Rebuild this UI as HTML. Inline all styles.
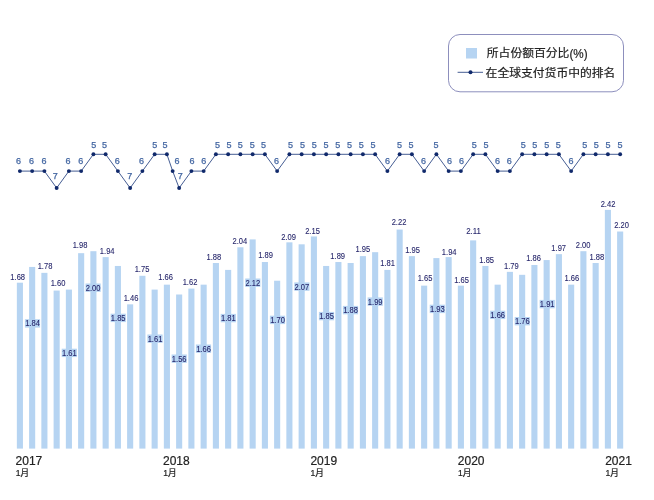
<!DOCTYPE html>
<html lang="zh-CN"><head><meta charset="utf-8"><title>人民币在全球支付货币中的份额与排名</title>
<style>html,body{margin:0;padding:0;background:#fff}body{width:654px;height:500px;overflow:hidden}svg{display:block}text{font-family:"Liberation Sans", "Noto Sans CJK SC", sans-serif;stroke-width:0.2px}.n text{stroke-width:0.1px}.r text{stroke-width:0.25px}</style>
</head><body>
<svg width="654" height="500" viewBox="0 0 654 500">
<rect width="654" height="500" fill="#fff"/>
<g fill="#b6d4f2">
<rect x="16.85" y="282.69" width="6.10" height="165.91"/>
<rect x="29.10" y="266.94" width="6.10" height="181.66"/>
<rect x="41.35" y="272.85" width="6.10" height="175.75"/>
<rect x="53.60" y="290.56" width="6.10" height="158.04"/>
<rect x="65.85" y="289.58" width="6.10" height="159.02"/>
<rect x="78.10" y="253.17" width="6.10" height="195.43"/>
<rect x="90.35" y="251.20" width="6.10" height="197.40"/>
<rect x="102.60" y="257.10" width="6.10" height="191.50"/>
<rect x="114.85" y="265.96" width="6.10" height="182.64"/>
<rect x="127.10" y="304.34" width="6.10" height="144.26"/>
<rect x="139.35" y="275.80" width="6.10" height="172.80"/>
<rect x="151.60" y="289.58" width="6.10" height="159.02"/>
<rect x="163.85" y="284.66" width="6.10" height="163.94"/>
<rect x="176.10" y="294.50" width="6.10" height="154.10"/>
<rect x="188.35" y="288.59" width="6.10" height="160.01"/>
<rect x="200.60" y="284.66" width="6.10" height="163.94"/>
<rect x="212.85" y="263.01" width="6.10" height="185.59"/>
<rect x="225.10" y="269.90" width="6.10" height="178.70"/>
<rect x="237.35" y="247.26" width="6.10" height="201.34"/>
<rect x="249.60" y="239.39" width="6.10" height="209.21"/>
<rect x="261.85" y="262.02" width="6.10" height="186.58"/>
<rect x="274.10" y="280.72" width="6.10" height="167.88"/>
<rect x="286.35" y="242.34" width="6.10" height="206.26"/>
<rect x="298.60" y="244.31" width="6.10" height="204.29"/>
<rect x="310.85" y="236.44" width="6.10" height="212.16"/>
<rect x="323.10" y="265.96" width="6.10" height="182.64"/>
<rect x="335.35" y="262.02" width="6.10" height="186.58"/>
<rect x="347.60" y="263.01" width="6.10" height="185.59"/>
<rect x="359.85" y="256.12" width="6.10" height="192.48"/>
<rect x="372.10" y="252.18" width="6.10" height="196.42"/>
<rect x="384.35" y="269.90" width="6.10" height="178.70"/>
<rect x="396.60" y="229.55" width="6.10" height="219.05"/>
<rect x="408.85" y="256.12" width="6.10" height="192.48"/>
<rect x="421.10" y="285.64" width="6.10" height="162.96"/>
<rect x="433.35" y="258.09" width="6.10" height="190.51"/>
<rect x="445.60" y="257.10" width="6.10" height="191.50"/>
<rect x="457.85" y="285.64" width="6.10" height="162.96"/>
<rect x="470.10" y="240.38" width="6.10" height="208.22"/>
<rect x="482.35" y="265.96" width="6.10" height="182.64"/>
<rect x="494.60" y="284.66" width="6.10" height="163.94"/>
<rect x="506.85" y="271.86" width="6.10" height="176.74"/>
<rect x="519.10" y="274.82" width="6.10" height="173.78"/>
<rect x="531.35" y="264.98" width="6.10" height="183.62"/>
<rect x="543.60" y="260.06" width="6.10" height="188.54"/>
<rect x="555.85" y="254.15" width="6.10" height="194.45"/>
<rect x="568.10" y="284.66" width="6.10" height="163.94"/>
<rect x="580.35" y="251.20" width="6.10" height="197.40"/>
<rect x="592.60" y="263.01" width="6.10" height="185.59"/>
<rect x="604.85" y="209.87" width="6.10" height="238.73"/>
<rect x="617.10" y="231.52" width="6.10" height="217.08"/>
</g>
<g class="n" font-size="8.6" text-anchor="middle" fill="#26266b" stroke="#26266b">
<text x="17.70" y="279.65" textLength="14.7" lengthAdjust="spacingAndGlyphs">1.68</text>
<rect x="24.90" y="319.20" width="15.2" height="8.4" fill="#b6d4f2" stroke="none"/>
<text x="32.50" y="326.45" textLength="14.7" lengthAdjust="spacingAndGlyphs">1.84</text>
<text x="45.00" y="269.15" textLength="14.7" lengthAdjust="spacingAndGlyphs">1.78</text>
<text x="58.00" y="286.35" textLength="14.7" lengthAdjust="spacingAndGlyphs">1.60</text>
<rect x="61.70" y="348.70" width="15.2" height="8.4" fill="#b6d4f2" stroke="none"/>
<text x="69.30" y="355.95" textLength="14.7" lengthAdjust="spacingAndGlyphs">1.61</text>
<text x="80.00" y="247.75" textLength="14.7" lengthAdjust="spacingAndGlyphs">1.98</text>
<rect x="85.50" y="283.50" width="15.2" height="8.4" fill="#b6d4f2" stroke="none"/>
<text x="93.10" y="290.75" textLength="14.7" lengthAdjust="spacingAndGlyphs">2.00</text>
<text x="107.20" y="254.35" textLength="14.7" lengthAdjust="spacingAndGlyphs">1.94</text>
<rect x="110.60" y="313.70" width="15.2" height="8.4" fill="#b6d4f2" stroke="none"/>
<text x="118.20" y="320.95" textLength="14.7" lengthAdjust="spacingAndGlyphs">1.85</text>
<text x="131.00" y="300.95" textLength="14.7" lengthAdjust="spacingAndGlyphs">1.46</text>
<text x="142.00" y="272.15" textLength="14.7" lengthAdjust="spacingAndGlyphs">1.75</text>
<rect x="147.40" y="334.50" width="15.2" height="8.4" fill="#b6d4f2" stroke="none"/>
<text x="155.00" y="341.75" textLength="14.7" lengthAdjust="spacingAndGlyphs">1.61</text>
<text x="165.60" y="280.35" textLength="14.7" lengthAdjust="spacingAndGlyphs">1.66</text>
<rect x="171.60" y="354.50" width="15.2" height="8.4" fill="#b6d4f2" stroke="none"/>
<text x="179.20" y="361.75" textLength="14.7" lengthAdjust="spacingAndGlyphs">1.56</text>
<text x="190.00" y="284.55" textLength="14.7" lengthAdjust="spacingAndGlyphs">1.62</text>
<rect x="195.90" y="344.50" width="15.2" height="8.4" fill="#b6d4f2" stroke="none"/>
<text x="203.50" y="351.75" textLength="14.7" lengthAdjust="spacingAndGlyphs">1.66</text>
<text x="213.80" y="260.25" textLength="14.7" lengthAdjust="spacingAndGlyphs">1.88</text>
<rect x="220.70" y="313.90" width="15.2" height="8.4" fill="#b6d4f2" stroke="none"/>
<text x="228.30" y="321.15" textLength="14.7" lengthAdjust="spacingAndGlyphs">1.81</text>
<text x="239.90" y="244.15" textLength="14.7" lengthAdjust="spacingAndGlyphs">2.04</text>
<rect x="245.20" y="278.50" width="15.2" height="8.4" fill="#b6d4f2" stroke="none"/>
<text x="252.80" y="285.75" textLength="14.7" lengthAdjust="spacingAndGlyphs">2.12</text>
<text x="265.50" y="258.45" textLength="14.7" lengthAdjust="spacingAndGlyphs">1.89</text>
<rect x="269.90" y="315.70" width="15.2" height="8.4" fill="#b6d4f2" stroke="none"/>
<text x="277.50" y="322.95" textLength="14.7" lengthAdjust="spacingAndGlyphs">1.70</text>
<text x="288.60" y="240.15" textLength="14.7" lengthAdjust="spacingAndGlyphs">2.09</text>
<rect x="294.30" y="282.40" width="15.2" height="8.4" fill="#b6d4f2" stroke="none"/>
<text x="301.90" y="289.65" textLength="14.7" lengthAdjust="spacingAndGlyphs">2.07</text>
<text x="312.50" y="233.75" textLength="14.7" lengthAdjust="spacingAndGlyphs">2.15</text>
<rect x="318.90" y="311.90" width="15.2" height="8.4" fill="#b6d4f2" stroke="none"/>
<text x="326.50" y="319.15" textLength="14.7" lengthAdjust="spacingAndGlyphs">1.85</text>
<text x="337.70" y="258.75" textLength="14.7" lengthAdjust="spacingAndGlyphs">1.89</text>
<rect x="342.90" y="305.90" width="15.2" height="8.4" fill="#b6d4f2" stroke="none"/>
<text x="350.50" y="313.15" textLength="14.7" lengthAdjust="spacingAndGlyphs">1.88</text>
<text x="362.80" y="251.75" textLength="14.7" lengthAdjust="spacingAndGlyphs">1.95</text>
<rect x="367.60" y="297.40" width="15.2" height="8.4" fill="#b6d4f2" stroke="none"/>
<text x="375.20" y="304.65" textLength="14.7" lengthAdjust="spacingAndGlyphs">1.99</text>
<text x="387.60" y="266.45" textLength="14.7" lengthAdjust="spacingAndGlyphs">1.81</text>
<text x="399.00" y="225.15" textLength="14.7" lengthAdjust="spacingAndGlyphs">2.22</text>
<text x="412.50" y="252.75" textLength="14.7" lengthAdjust="spacingAndGlyphs">1.95</text>
<text x="425.00" y="280.75" textLength="14.7" lengthAdjust="spacingAndGlyphs">1.65</text>
<rect x="429.70" y="304.70" width="15.2" height="8.4" fill="#b6d4f2" stroke="none"/>
<text x="437.30" y="311.95" textLength="14.7" lengthAdjust="spacingAndGlyphs">1.93</text>
<text x="449.20" y="254.95" textLength="14.7" lengthAdjust="spacingAndGlyphs">1.94</text>
<text x="461.50" y="282.75" textLength="14.7" lengthAdjust="spacingAndGlyphs">1.65</text>
<text x="473.50" y="234.15" textLength="14.7" lengthAdjust="spacingAndGlyphs">2.11</text>
<text x="486.70" y="263.15" textLength="14.7" lengthAdjust="spacingAndGlyphs">1.85</text>
<rect x="490.10" y="310.70" width="15.2" height="8.4" fill="#b6d4f2" stroke="none"/>
<text x="497.70" y="317.95" textLength="14.7" lengthAdjust="spacingAndGlyphs">1.66</text>
<text x="511.30" y="269.45" textLength="14.7" lengthAdjust="spacingAndGlyphs">1.79</text>
<rect x="514.70" y="317.00" width="15.2" height="8.4" fill="#b6d4f2" stroke="none"/>
<text x="522.30" y="324.25" textLength="14.7" lengthAdjust="spacingAndGlyphs">1.76</text>
<text x="533.50" y="261.15" textLength="14.7" lengthAdjust="spacingAndGlyphs">1.86</text>
<rect x="539.60" y="299.90" width="15.2" height="8.4" fill="#b6d4f2" stroke="none"/>
<text x="547.20" y="307.15" textLength="14.7" lengthAdjust="spacingAndGlyphs">1.91</text>
<text x="558.70" y="250.65" textLength="14.7" lengthAdjust="spacingAndGlyphs">1.97</text>
<text x="571.80" y="280.65" textLength="14.7" lengthAdjust="spacingAndGlyphs">1.66</text>
<text x="583.10" y="248.15" textLength="14.7" lengthAdjust="spacingAndGlyphs">2.00</text>
<text x="596.80" y="260.15" textLength="14.7" lengthAdjust="spacingAndGlyphs">1.88</text>
<text x="608.00" y="207.15" textLength="14.7" lengthAdjust="spacingAndGlyphs">2.42</text>
<text x="621.50" y="227.65" textLength="14.7" lengthAdjust="spacingAndGlyphs">2.20</text>
</g>
<polyline fill="none" stroke="#24407f" stroke-width="0.85" stroke-linejoin="round" points="19.90,171.10 32.15,171.10 44.40,171.10 56.65,188.00 68.90,171.10 81.15,171.10 93.40,154.30 105.65,154.30 117.90,171.10 130.15,188.00 142.40,171.10 154.65,154.30 166.90,154.30 172.66,171.10 179.15,188.00 191.40,171.10 203.65,171.10 215.90,154.30 228.15,154.30 240.40,154.30 252.65,154.30 264.90,154.30 277.15,171.10 289.40,154.30 301.65,154.30 313.90,154.30 326.15,154.30 338.40,154.30 350.65,154.30 362.90,154.30 375.15,154.30 387.40,171.10 399.65,154.30 411.90,154.30 424.15,171.10 436.40,154.30 448.65,171.10 460.90,171.10 473.15,154.30 485.40,154.30 497.65,171.10 509.90,171.10 522.15,154.30 534.40,154.30 546.65,154.30 558.90,154.30 571.15,171.10 583.40,154.30 595.65,154.30 607.90,154.30 620.15,154.30"/>
<g fill="#10296b">
<circle cx="19.90" cy="171.10" r="1.95"/>
<circle cx="32.15" cy="171.10" r="1.95"/>
<circle cx="44.40" cy="171.10" r="1.95"/>
<circle cx="56.65" cy="188.00" r="1.95"/>
<circle cx="68.90" cy="171.10" r="1.95"/>
<circle cx="81.15" cy="171.10" r="1.95"/>
<circle cx="93.40" cy="154.30" r="1.95"/>
<circle cx="105.65" cy="154.30" r="1.95"/>
<circle cx="117.90" cy="171.10" r="1.95"/>
<circle cx="130.15" cy="188.00" r="1.95"/>
<circle cx="142.40" cy="171.10" r="1.95"/>
<circle cx="154.65" cy="154.30" r="1.95"/>
<circle cx="166.90" cy="154.30" r="1.95"/>
<circle cx="172.66" cy="171.10" r="1.95"/>
<circle cx="179.15" cy="188.00" r="1.95"/>
<circle cx="191.40" cy="171.10" r="1.95"/>
<circle cx="203.65" cy="171.10" r="1.95"/>
<circle cx="215.90" cy="154.30" r="1.95"/>
<circle cx="228.15" cy="154.30" r="1.95"/>
<circle cx="240.40" cy="154.30" r="1.95"/>
<circle cx="252.65" cy="154.30" r="1.95"/>
<circle cx="264.90" cy="154.30" r="1.95"/>
<circle cx="277.15" cy="171.10" r="1.95"/>
<circle cx="289.40" cy="154.30" r="1.95"/>
<circle cx="301.65" cy="154.30" r="1.95"/>
<circle cx="313.90" cy="154.30" r="1.95"/>
<circle cx="326.15" cy="154.30" r="1.95"/>
<circle cx="338.40" cy="154.30" r="1.95"/>
<circle cx="350.65" cy="154.30" r="1.95"/>
<circle cx="362.90" cy="154.30" r="1.95"/>
<circle cx="375.15" cy="154.30" r="1.95"/>
<circle cx="387.40" cy="171.10" r="1.95"/>
<circle cx="399.65" cy="154.30" r="1.95"/>
<circle cx="411.90" cy="154.30" r="1.95"/>
<circle cx="424.15" cy="171.10" r="1.95"/>
<circle cx="436.40" cy="154.30" r="1.95"/>
<circle cx="448.65" cy="171.10" r="1.95"/>
<circle cx="460.90" cy="171.10" r="1.95"/>
<circle cx="473.15" cy="154.30" r="1.95"/>
<circle cx="485.40" cy="154.30" r="1.95"/>
<circle cx="497.65" cy="171.10" r="1.95"/>
<circle cx="509.90" cy="171.10" r="1.95"/>
<circle cx="522.15" cy="154.30" r="1.95"/>
<circle cx="534.40" cy="154.30" r="1.95"/>
<circle cx="546.65" cy="154.30" r="1.95"/>
<circle cx="558.90" cy="154.30" r="1.95"/>
<circle cx="571.15" cy="171.10" r="1.95"/>
<circle cx="583.40" cy="154.30" r="1.95"/>
<circle cx="595.65" cy="154.30" r="1.95"/>
<circle cx="607.90" cy="154.30" r="1.95"/>
<circle cx="620.15" cy="154.30" r="1.95"/>
</g>
<g class="r" font-size="9" text-anchor="middle" fill="#4366a2" stroke="#4366a2">
<text x="18.50" y="164.20">6</text>
<text x="31.40" y="164.20">6</text>
<text x="44.00" y="164.20">6</text>
<text x="55.20" y="179.00">7</text>
<text x="68.10" y="164.20">6</text>
<text x="80.70" y="164.20">6</text>
<text x="93.80" y="148.30">5</text>
<text x="104.40" y="148.30">5</text>
<text x="117.30" y="164.20">6</text>
<text x="129.70" y="179.00">7</text>
<text x="141.50" y="164.20">6</text>
<text x="154.70" y="148.30">5</text>
<text x="165.10" y="148.30">5</text>
<text x="177" y="164.2">6</text>
<text x="180.30" y="179.00">7</text>
<text x="192.10" y="164.20">6</text>
<text x="203.70" y="164.20">6</text>
<text x="217.40" y="148.30">5</text>
<text x="229.00" y="148.30">5</text>
<text x="240.30" y="148.30">5</text>
<text x="252.20" y="148.30">5</text>
<text x="263.50" y="148.30">5</text>
<text x="276.60" y="164.20">6</text>
<text x="290.50" y="148.30">5</text>
<text x="302.40" y="148.30">5</text>
<text x="314.20" y="148.30">5</text>
<text x="326.00" y="148.30">5</text>
<text x="337.80" y="148.30">5</text>
<text x="349.40" y="148.30">5</text>
<text x="361.30" y="148.30">5</text>
<text x="372.90" y="148.30">5</text>
<text x="387.50" y="164.20">6</text>
<text x="399.40" y="148.30">5</text>
<text x="411.00" y="148.30">5</text>
<text x="423.60" y="164.20">6</text>
<text x="436.00" y="148.30">5</text>
<text x="449.40" y="164.20">6</text>
<text x="461.50" y="164.20">6</text>
<text x="474.30" y="148.30">5</text>
<text x="485.90" y="148.30">5</text>
<text x="497.40" y="164.20">6</text>
<text x="509.30" y="164.20">6</text>
<text x="523.30" y="148.30">5</text>
<text x="534.80" y="148.30">5</text>
<text x="546.70" y="148.30">5</text>
<text x="558.20" y="148.30">5</text>
<text x="571.00" y="164.20">6</text>
<text x="584.70" y="148.30">5</text>
<text x="596.30" y="148.30">5</text>
<text x="608.10" y="148.30">5</text>
<text x="620.00" y="148.30">5</text>
</g>
<text x="15.60" y="464.8" font-size="12" fill="#222" stroke="#222">2017</text>
<text x="15.80" y="476" font-size="8.6" fill="#222" stroke="#222">1月</text>
<text x="163.00" y="464.8" font-size="12" fill="#222" stroke="#222">2018</text>
<text x="163.20" y="476" font-size="8.6" fill="#222" stroke="#222">1月</text>
<text x="310.40" y="464.8" font-size="12" fill="#222" stroke="#222">2019</text>
<text x="310.60" y="476" font-size="8.6" fill="#222" stroke="#222">1月</text>
<text x="457.80" y="464.8" font-size="12" fill="#222" stroke="#222">2020</text>
<text x="458.00" y="476" font-size="8.6" fill="#222" stroke="#222">1月</text>
<text x="605.20" y="464.8" font-size="12" fill="#222" stroke="#222">2021</text>
<text x="605.40" y="476" font-size="8.6" fill="#222" stroke="#222">1月</text>
<rect x="448.5" y="34.5" width="175" height="57.3" rx="11.5" ry="11.5" fill="#fff" stroke="#8082b6" stroke-width="0.9"/>
<rect x="466" y="48" width="11" height="10.5" fill="#b6d4f2"/>
<text x="486.8" y="57.4" font-size="11.8" fill="#222" stroke="#222">所占份额百分比<tspan font-size="13.2" dy="0.3" textLength="18.2" lengthAdjust="spacingAndGlyphs">(%)</tspan></text>
<line x1="457.6" y1="72.3" x2="483" y2="72.3" stroke="#24407f" stroke-width="0.85"/>
<circle cx="470.5" cy="72.3" r="2" fill="#10296b"/>
<text x="485.6" y="76.9" font-size="11.8" fill="#222" stroke="#222">在全球支付货币中的排名</text>
</svg>
</body></html>
